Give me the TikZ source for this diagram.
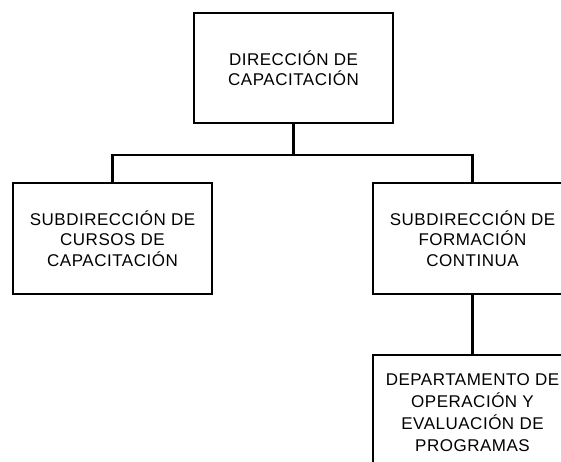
\documentclass[tikz,border=0pt]{standalone}
\usepackage{fontspec}
\setmainfont{Liberation Sans}[LetterSpace=3]
\begin{document}
\begin{tikzpicture}[x=1pt, y=-1pt,
  caja/.style={draw, line width=2pt, rectangle, align=center, inner sep=0pt,
    minimum width=199pt, minimum height=110pt,
    font=\fontsize{17}{20.5}\selectfont},
  linea/.style={line width=2.4pt}]
\useasboundingbox (0,0) rectangle (561,462);
\clip (0,0) rectangle (561,462);
\node[caja] (dir) at (293.5,68){DIRECCIÓN DE\\CAPACITACIÓN};
\coordinate (bus) at (293.5,155);
\node[caja] (sub1) at (112.5,238.5){SUBDIRECCIÓN DE\\CURSOS DE\\CAPACITACIÓN};
\node[caja] (sub2) at (472.5,238.5){SUBDIRECCIÓN DE\\FORMACIÓN\\CONTINUA};
\node[caja, minimum height=116pt,
  font=\fontsize{17}{22}\selectfont] (dep) at (472.5,413){DEPARTAMENTO DE\\OPERACIÓN Y\\EVALUACIÓN DE\\PROGRAMAS};
\draw[linea](dir) -- (bus);
\draw[linea](bus) -| (sub1);
\draw[linea](bus) -| (sub2);
\draw[linea](sub2) -- (dep);
\end{tikzpicture}
\end{document}
